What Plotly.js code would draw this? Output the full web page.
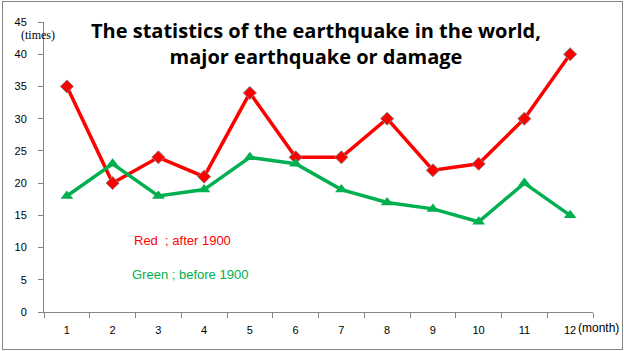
<!DOCTYPE html>
<html>
<head>
<meta charset="utf-8">
<script src="https://cdn.plot.ly/plotly-3.0.1.min.js"></script>
<style>
html,body{margin:0;padding:0;background:#fff;}
#wrap{position:relative;width:624px;height:351px;}
#chart{width:624px;height:351px;}
#frame{position:absolute;left:2px;top:1px;width:619px;height:347px;border:1px solid #868686;pointer-events:none;}
</style>
</head>
<body>
<div id="wrap"><div id="chart"></div><div id="frame"></div></div>
<script>
const months = ["1","2","3","4","5","6","7","8","9","10","11","12"];
const afterValues = [35,20,24,21,34,24,24,30,22,23,30,40];
const beforeValues = [18,23,18,19,24,23,19,17,16,14,20,15];
const titleText = "The statistics of the earthquake in the world,<br>major earthquake or damage";
const yUnit = "(times)";
const xUnit = "(month)";
const redNote = "Red  ; after 1900";
const greenNote = "Green ; before 1900";

const tickFont = {family: "Liberation Sans, Arial, sans-serif", size: 11, color: "#000"};

const traces = [
  {x: months, y: afterValues, type: "scatter", mode: "lines+markers", name: "after 1900",
   line: {color: "#FF0000", width: 3.5},
   marker: {symbol: "diamond", size: 10, color: "#FF0000", line: {color: "#7f7f7f", width: 1}}},
  {x: months, y: beforeValues, type: "scatter", mode: "lines+markers", name: "before 1900",
   line: {color: "#00B050", width: 3.5},
   marker: {symbol: "triangle-up", size: 11, color: "#00B050"}}
];

const layout = {
  width: 624, height: 351,
  margin: {l: 44, r: 31, t: 22, b: 39, autoexpand: false},
  paper_bgcolor: "#fff", plot_bgcolor: "#fff",
  showlegend: false,
  xaxis: {type: "category", range: [-0.5, months.length - 0.5], tickson: "boundaries", ticks: "outside", ticklen: 5, tickcolor: "#868686",
          showline: true, linecolor: "#868686", linewidth: 1, showgrid: false, zeroline: false,
          tickfont: tickFont, ticklabelstandoff: 8, fixedrange: true, automargin: false},
  yaxis: {range: [0, 45], dtick: 5, ticks: "outside", ticklen: 5, tickcolor: "#868686",
          showline: true, linecolor: "#868686", linewidth: 1, showgrid: false, zeroline: false,
          tickfont: tickFont, ticklabelstandoff: 9, fixedrange: true, automargin: false},
  annotations: [
    {text: titleText, xref: "paper", yref: "paper", x: 0.495, y: 0.927, xanchor: "center", yanchor: "middle",
     showarrow: false, align: "center",
     font: {family: "Open Sans, Noto Sans, sans-serif", size: 20, color: "#000", weight: "bold"}},
    {text: yUnit, xref: "paper", yref: "paper", x: -0.011, y: 0.955, xanchor: "center", yanchor: "middle",
     showarrow: false, font: {family: "Liberation Serif, serif", size: 12, color: "#000"}},
    {text: xUnit, xref: "paper", yref: "paper", x: 0.969, y: -0.055, xanchor: "left", yanchor: "middle",
     showarrow: false, font: {family: "Liberation Sans, Arial, sans-serif", size: 12, color: "#000"}},
    {text: redNote, xref: "paper", yref: "paper", x: 0.160, y: 0.248, xanchor: "left", yanchor: "middle",
     showarrow: false, font: {family: "Liberation Sans, Arial, sans-serif", size: 13, color: "#FF0000"}},
    {text: greenNote, xref: "paper", yref: "paper", x: 0.156, y: 0.131, xanchor: "left", yanchor: "middle",
     showarrow: false, font: {family: "Liberation Sans, Arial, sans-serif", size: 13, color: "#00B050"}}
  ]
};

Plotly.newPlot("chart", traces, layout, {staticPlot: true, displayModeBar: false});
</script>
</body>
</html>
